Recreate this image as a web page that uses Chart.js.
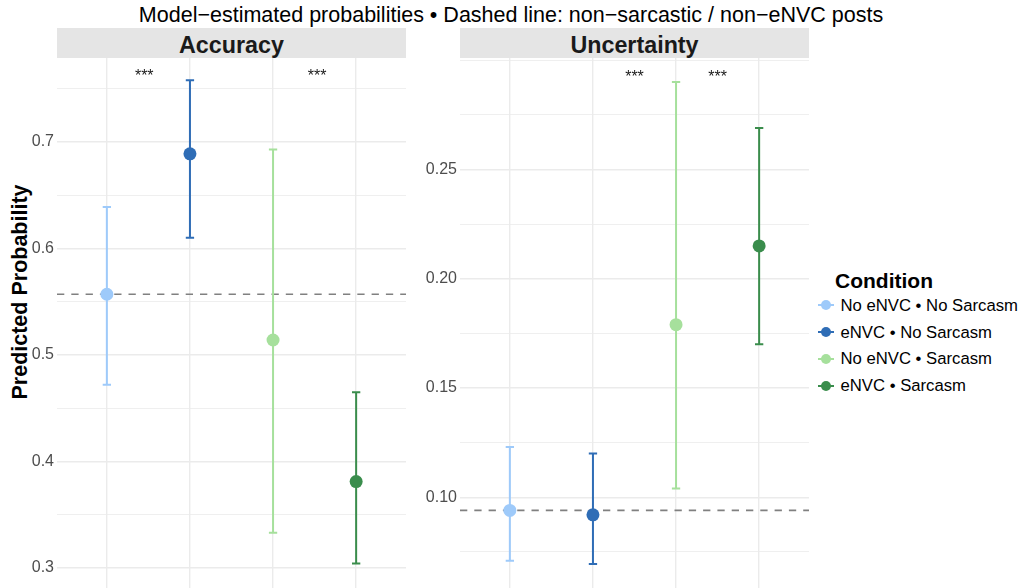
<!DOCTYPE html>
<html>
<head>
<meta charset="utf-8">
<script src="https://cdn.jsdelivr.net/npm/chart.js@4.4.1/dist/chart.umd.min.js"></script>
<style>
  html, body { margin: 0; padding: 0; background: #fff; }
  body { width: 1022px; height: 588px; position: relative; overflow: hidden; font-family: "Liberation Sans", Arial, sans-serif; }
  canvas { position: absolute; top: 58px; }
  .title { position: absolute; left: 0; top: 5px; width: 1022px; text-align: center; font-size: 21.5px; line-height: 1; color: #000; white-space: nowrap; }
  .strip { position: absolute; top: 28px; height: 30px; background: #e5e5e5; text-align: center; font-weight: bold; font-size: 23.3px; line-height: 30px; color: #1a1a1a; padding-top: 2px; box-sizing: border-box; }
  .ytitle { position: absolute; left: 21px; top: 292px; transform: translate(-50%, -50%) rotate(-90deg); font-weight: bold; font-size: 21.5px; line-height: 1; white-space: nowrap; }
  .legend-title { position: absolute; left: 835px; top: 269.5px; font-weight: bold; font-size: 21px; line-height: 1; color: #000; }
  .legend-item { position: absolute; left: 840.5px; font-size: 16.7px; line-height: 1; color: #000; white-space: nowrap; }
  .key-line { position: absolute; width: 16px; height: 2px; }
  .key-dot { position: absolute; width: 10px; height: 10px; border-radius: 50%; }
</style>
</head>
<body>
<div class="title">Model−estimated probabilities • Dashed line: non−sarcastic / non−eNVC posts</div>
<div class="strip" style="left:57px;width:349px;">Accuracy</div>
<div class="strip" style="left:460px;width:349px;">Uncertainty</div>
<div class="ytitle">Predicted Probability</div>
<canvas id="acc" width="406" height="530" style="left:0px;width:406px;height:530px;"></canvas>
<canvas id="unc" width="403" height="530" style="left:406px;width:403px;height:530px;"></canvas>
<div class="legend-title">Condition</div>
<div id="legend"></div>
<script>
// conditions and colours
const conditions = ["No eNVC • No Sarcasm", "eNVC • No Sarcasm", "No eNVC • Sarcasm", "eNVC • Sarcasm"];
const positions = [1, 2, 3, 4];
const colors = ["#9ecafa", "#2f6db6", "#a6e09c", "#3a8d4c"];

// Accuracy panel
const accEst = [0.557, 0.689, 0.514, 0.381];
const accLow = [0.472, 0.610, 0.333, 0.304];
const accHigh = [0.639, 0.758, 0.693, 0.465];
const accRef = 0.557;
const accTicks = [0.3, 0.4, 0.5, 0.6, 0.7];
const accMinor = [0.35, 0.45, 0.55, 0.65, 0.75];
const accStarX = [1.45, 3.53];
const accStarY = [0.757, 0.757];

// Uncertainty panel
const uncEst = [0.094, 0.092, 0.179, 0.215];
const uncLow = [0.071, 0.0695, 0.104, 0.170];
const uncHigh = [0.123, 0.120, 0.290, 0.269];
const uncRef = 0.094;
const uncTicks = [0.10, 0.15, 0.20, 0.25];
const uncMinor = [0.075, 0.125, 0.175, 0.225, 0.275, 0.30];
const uncStarX = [2.5, 3.5];
const uncStarY = [0.290, 0.290];

const FONT = "'Liberation Sans', Arial, sans-serif";

function makePanel(id, est, low, high, ref, major, minor, yMin, yMax, digits, starX, starY, yWidth) {
  // reference line, error bars and stars drawn under the points
  const extras = {
    id: "extras_" + id,
    beforeDatasetsDraw(chart) {
      const { ctx, chartArea } = chart;
      const xs = chart.scales.x;
      const ys = chart.scales.y;
      ctx.save();
      ctx.beginPath();
      ctx.rect(chartArea.left, chartArea.top, chartArea.width, chartArea.height);
      ctx.clip();

      // dashed reference line
      ctx.strokeStyle = "#808080";
      ctx.lineWidth = 1.7;
      ctx.setLineDash([7.3, 7]);
      const yr = ys.getPixelForValue(ref);
      ctx.beginPath();
      ctx.moveTo(xs.getPixelForValue(xs.min), yr);
      ctx.lineTo(xs.getPixelForValue(xs.max), yr);
      ctx.stroke();
      ctx.setLineDash([]);

      // error bars
      ctx.lineWidth = 2;
      positions.forEach((p, i) => {
        const x = xs.getPixelForValue(p);
        const x0 = xs.getPixelForValue(p - 0.05);
        const x1 = xs.getPixelForValue(p + 0.05);
        const yl = ys.getPixelForValue(low[i]);
        const yh = ys.getPixelForValue(high[i]);
        ctx.strokeStyle = colors[i];
        ctx.beginPath();
        ctx.moveTo(x, yl); ctx.lineTo(x, yh);
        ctx.moveTo(x0, yl); ctx.lineTo(x1, yl);
        ctx.moveTo(x0, yh); ctx.lineTo(x1, yh);
        ctx.stroke();
      });

      // significance stars
      ctx.fillStyle = "#1a1a1a";
      ctx.font = "16px " + FONT;
      ctx.textAlign = "center";
      ctx.textBaseline = "alphabetic";
      starX.forEach((sx, i) => {
        ctx.fillText("***", xs.getPixelForValue(sx), ys.getPixelForValue(starY[i]));
      });
      ctx.restore();
    }
  };

  return new Chart(document.getElementById(id), {
    type: "scatter",
    data: {
      datasets: [{
        data: positions.map((p, i) => ({ x: p, y: est[i] })),
        backgroundColor: colors,
        borderWidth: 0,
        pointRadius: 6.5,
        pointHoverRadius: 6.5
      }]
    },
    options: {
      responsive: false,
      devicePixelRatio: 1,
      animation: false,
      events: [],
      layout: { padding: 0, autoPadding: false },
      plugins: { legend: { display: false }, tooltip: { enabled: false } },
      scales: {
        x: {
          type: "linear",
          min: 0.4,
          max: 4.6,
          afterBuildTicks: s => { s.ticks = positions.map(v => ({ value: v })); },
          afterFit: s => { s.height = 0; s.paddingLeft = 0; s.paddingRight = 0; },
          ticks: { display: false },
          grid: { color: "#ebebeb", lineWidth: 1.4, drawTicks: false },
          border: { display: false }
        },
        y: {
          min: yMin,
          max: yMax,
          afterBuildTicks: s => {
            s.ticks = major.concat(minor).sort((a, b) => a - b).map(v => ({ value: v }));
          },
          afterFit: s => { s.width = yWidth; s.paddingTop = 0; s.paddingBottom = 0; },
          ticks: {
            autoSkip: false,
            padding: 3,
            color: "#4d4d4d",
            font: { family: FONT, size: 16 },
            callback: v => major.includes(v) ? v.toFixed(digits) : ""
          },
          grid: {
            color: "#ebebeb",
            lineWidth: c => major.includes(c.tick.value) ? 1.4 : 0.8,
            drawTicks: false
          },
          border: { display: false }
        }
      }
    },
    plugins: [extras]
  });
}

makePanel("acc", accEst, accLow, accHigh, accRef, accTicks, accMinor, 0.281, 0.779, 1, accStarX, accStarY, 57);
makePanel("unc", uncEst, uncLow, uncHigh, uncRef, uncTicks, uncMinor, 0.0585, 0.301, 2, uncStarX, uncStarY, 54);

// legend
const legendTops = [297.7, 324.5, 351.2, 378.3];
const legend = document.getElementById("legend");
conditions.forEach((name, i) => {
  const item = document.createElement("div");
  item.className = "legend-item";
  item.style.top = legendTops[i] + "px";
  item.textContent = name;
  legend.appendChild(item);
  const cy = legendTops[i] + 7.5;
  const line = document.createElement("div");
  line.className = "key-line";
  line.style.left = "818px";
  line.style.top = (cy - 1) + "px";
  line.style.background = colors[i];
  legend.appendChild(line);
  const dot = document.createElement("div");
  dot.className = "key-dot";
  dot.style.left = "821px";
  dot.style.top = (cy - 5) + "px";
  dot.style.background = colors[i];
  legend.appendChild(dot);
});
</script>
</body>
</html>
